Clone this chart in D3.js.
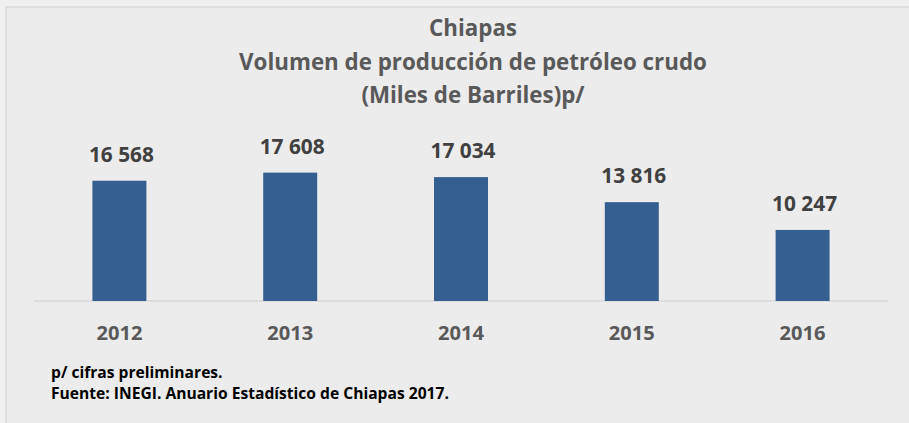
<!DOCTYPE html>
<html>
<head>
<meta charset="utf-8">
<script src="https://cdn.jsdelivr.net/npm/d3@7"></script>
<style>
  html, body { margin: 0; padding: 0; background: #f0f0f0; }
  svg { display: block; font-family: "Open Sans", "DejaVu Sans", sans-serif; }
</style>
</head>
<body>
<svg id="chart" width="909" height="423"></svg>
<script>
const years = ["2012", "2013", "2014", "2015", "2016"];
const volumes = [16568, 17608, 17034, 13816, 10247];
const titleLines = ["Chiapas", "Volumen de producción de petróleo crudo", "(Miles de Barriles)p/"];
const footnotes = ["p/ cifras preliminares.", "Fuente: INEGI. Anuario Estadístico de Chiapas 2017."];

const svg = d3.select("#chart");
const W = 909, H = 423;

svg.append("rect")
  .attr("x", 6).attr("y", 7).attr("width", W + 10).attr("height", H + 10)
  .attr("fill", "#ececec").attr("stroke", "#d9d9d9").attr("stroke-width", 1.5);

const x = d3.scaleBand().domain(years).range([34, 888]).paddingInner(0.684).paddingOuter(0.342);
const y = d3.scaleLinear().domain([1120, 20000]).range([301, 154]);

const fmt = d3.formatLocale({ decimal: ".", thousands: " ", grouping: [3], currency: ["", ""] }).format(",d");

function fitSize(text, weight, target) {
  const t = svg.append("text").attr("font-size", 20).attr("font-weight", weight).text(text);
  const w = t.node().getComputedTextLength();
  t.remove();
  return 20 * target / w;
}

// Title
const titleSize = fitSize(titleLines[1], "bold", 468);
const titleY = [36, 69.5, 103];
svg.append("g").selectAll("text").data(titleLines).join("text")
  .attr("x", 473).attr("y", (d, i) => titleY[i])
  .attr("text-anchor", "middle").attr("font-weight", "bold")
  .attr("font-size", titleSize).attr("fill", "#595959").text(d => d);

// Baseline
svg.append("line").attr("x1", 34).attr("x2", 888).attr("y1", 301).attr("y2", 301)
  .attr("stroke", "#d9d9d9").attr("stroke-width", 1.5);

// Bars
svg.append("g").selectAll("rect").data(volumes).join("rect")
  .attr("x", (d, i) => x(years[i]))
  .attr("width", x.bandwidth())
  .attr("y", d => y(d))
  .attr("height", d => y.range()[0] - y(d))
  .attr("fill", "#365f91");

// Value labels
const valSize = fitSize(fmt(volumes[0]), "bold", 65);
svg.append("g").selectAll("text").data(volumes).join("text")
  .attr("x", (d, i) => x(years[i]) + x.bandwidth() / 2 + 2)
  .attr("y", d => y(d) - 19)
  .attr("text-anchor", "middle").attr("font-weight", "bold")
  .attr("font-size", valSize).attr("fill", "#404040").text(d => fmt(d));

// X axis labels
const axisSize = fitSize(years[0], "bold", 46);
const xAxis = d3.axisBottom(x).tickSize(0).tickPadding(0);
const gx = svg.append("g").attr("transform", "translate(0,301)").call(xAxis);
gx.select(".domain").remove();
gx.selectAll(".tick text")
  .attr("y", 39).attr("dy", 0)
  .attr("font-family", "Open Sans, DejaVu Sans, sans-serif")
  .attr("font-weight", "bold").attr("font-size", axisSize).attr("fill", "#595959");

// Footnotes
const footSize = fitSize(footnotes[1], "bold", 398);
const footY = [377.7, 399];
svg.append("g").selectAll("text").data(footnotes).join("text")
  .attr("x", 51).attr("y", (d, i) => footY[i])
  .attr("font-weight", "bold").attr("font-size", footSize).attr("fill", "#000000").text(d => d);
</script>
</body>
</html>
